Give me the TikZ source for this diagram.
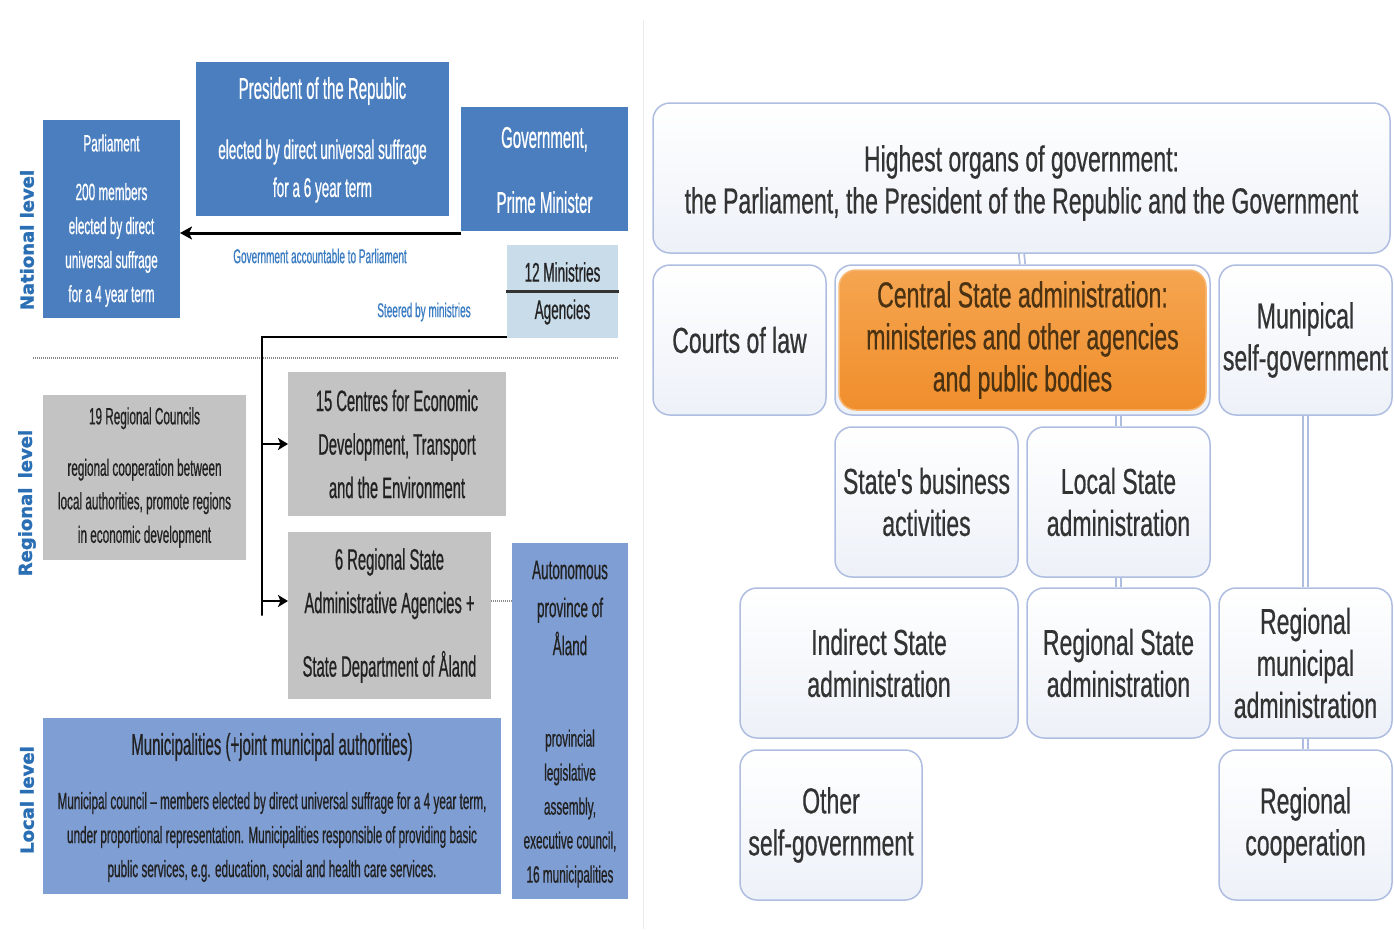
\documentclass[tikz,border=0pt]{standalone}
\usepackage{fontspec}
\setmainfont{Liberation Sans}
\newfontfamily\lfont[FakeStretch=0.5,FakeBold=0.6]{Liberation Sans}
\newfontfamily\rfont[FakeStretch=0.64,FakeBold=0.5]{Liberation Sans}
\newfontfamily\levfont[FakeBold=1.6]{DejaVu Sans}
\usetikzlibrary{arrows.meta}
\definecolor{dblue}{HTML}{4A7EBF}
\definecolor{pblue}{HTML}{7F9ED4}
\definecolor{lgray}{HTML}{C3C3C3}
\definecolor{lblue}{HTML}{C9DCEA}
\definecolor{capblue}{HTML}{3A7CC2}
\definecolor{levblue}{HTML}{2A6EB4}
\definecolor{rline}{HTML}{AEBDE0}
\definecolor{rbot}{HTML}{EDF1F8}
\definecolor{rtext}{HTML}{333333}
\definecolor{dtext}{HTML}{222222}
\definecolor{orngT}{HTML}{F5A550}
\definecolor{orngB}{HTML}{F08E2C}
\definecolor{otext}{HTML}{4A3212}
\newcommand{\LF}[2]{\lfont\fontsize{#1}{#2}\selectfont}
\newcommand{\RF}{\rfont\fontsize{36}{42}\selectfont}
\begin{document}
\begin{tikzpicture}[x=1pt,y=-1pt,
  box/.style={inner sep=0pt, outer sep=0pt},
  wtxt/.style={text=white, inner sep=0pt, align=center},
  dtxt/.style={text=dtext, inner sep=0pt, align=center},
  ctxt/.style={text=capblue, inner sep=0pt, font=\LF{20}{24}},
  lev/.style={text=levblue, inner sep=0pt, rotate=90, font=\levfont\bfseries\fontsize{18}{20}\selectfont},
  arr/.style={line width=3pt, -{Stealth[length=12pt,width=13pt,inset=3pt]}},
  arrb/.style={line width=2.5pt, -{Stealth[length=10pt,width=12pt,inset=2.5pt]}},
  trunk/.style={line width=2.5pt},
  dotl/.style={draw=black!45, line width=1.5pt, dash pattern=on 1pt off 1pt},
  rbox/.style={rounded corners=17pt, draw=rline, line width=1.5pt, top color=white, bottom color=rbot, inner sep=2pt, text=rtext, font=\RF, align=center},
  rconn/.style={draw=rline, line width=1.8pt, double=white, double distance=3.5pt}
]
\useasboundingbox (0,0) rectangle (1394,929);
\fill[white] (0,0) rectangle (1394,929);
\draw[black!8, line width=1pt] (643,20) -- (643,929);

% ---------- left panel ----------
\node[lev] (natL) at (27,240) {National level};
\node[lev] (regL) at (27,503) {Regional\, level};
\node[lev] (locL) at (27,800) {Local level};

\node[box, fill=dblue, minimum width=137pt, minimum height=198pt] (parl) at (111.5,219) {};
\node[wtxt, font=\LF{23.5}{34}] (parlT) at (111.5,143) {Parliament};
\node[wtxt, font=\LF{23.5}{34}] (parlB) at (111.5,245) {200 members\\elected by direct\\universal suffrage\\for a 4 year term};

\node[box, fill=dblue, minimum width=253pt, minimum height=154pt] (pres) at (322.5,139) {};
\node[wtxt, font=\LF{30}{32}] (presT) at (322.5,91) {President of the Republic};
\node[wtxt, font=\LF{27}{38}] (presB) at (322.5,171) {elected by direct universal suffrage\\for a 6 year term};

\node[box, fill=dblue, minimum width=167pt, minimum height=124pt] (gov) at (544.5,169) {};
\node[wtxt, font=\LF{30}{65}] (govT) at (544.5,170) {Government,\\Prime Minister};

\draw[arr] ([yshift=-2pt]gov.south west) -- ([yshift=-2pt]gov.south west -| parl.east);
\node[ctxt] (accT) at (320,256) {Government accountable to Parliament};

\node[box, fill=lblue, minimum width=111pt, minimum height=93pt] (mini) at (562.5,291.5) {};
\draw[line width=2.5pt, draw=black!80] ([xshift=-1pt]mini.west) -- ([xshift=1pt]mini.east);
\node[dtxt, font=\LF{27}{30}] (miniT) at (562.5,272) {12 Ministries};
\node[dtxt, font=\LF{27}{30}] (agT) at (562.5,312) {Agencies};
\node[ctxt] (steerT) at (424,312) {Steered by ministries};

\draw[dotl] (33,358) -- (619,358);

\node[box, fill=lgray, text=dtext, align=center, font=\LF{23.5}{33.5}, minimum width=203pt, minimum height=165pt] (rc) at (144.5,477.5) {19 Regional Councils\\[18pt]regional cooperation between\\local authorities, promote regions\\in economic development};

\node[box, fill=lgray, text=dtext, align=center, font=\LF{29.5}{43.5}, minimum width=218pt, minimum height=144pt] (cen) at (397,444) {15 Centres for Economic\\Development, Transport\\and the Environment};

\node[box, fill=lgray, text=dtext, align=center, font=\LF{29.5}{43.5}, minimum width=203pt, minimum height=167pt] (rsa) at (389.5,615.5) {6 Regional State\\Administrative Agencies +\\[20pt]State Department of Åland};

\node[box, fill=pblue, minimum width=116pt, minimum height=356pt] (aut) at (570,721) {};
\node[dtxt, font=\LF{27}{38}] (autT) at (570,608) {Autonomous\\province of\\Åland};
\node[dtxt, font=\LF{23.5}{34}] (autB) at (570,808.5) {provincial\\legislative\\assembly,\\executive council,\\16 municipalities};

\node[box, fill=pblue, minimum width=458pt, minimum height=176pt] (mun) at (272,806) {};
\node[dtxt, font=\LF{30}{32}] (munT) at (272,747) {Municipalities (+joint municipal authorities)};
\node[dtxt, font=\LF{23.5}{34}] (munB) at (272,837) {Municipal council – members elected by direct universal suffrage for a 4 year term,\\under proportional representation. Municipalities responsible of providing basic\\public services, e.g. education, social and health care services.};

\coordinate (tk) at (262,337);
\draw[trunk] ([yshift=1pt]mini.south west) -- (tk) -- (tk |- rsa.west) -- ([yshift=14.5pt]tk |- rsa.west);
\draw[arrb] (tk |- cen.west) -- (cen.west);
\draw[arrb] ([yshift=14.5pt]tk |- rsa.west) -- ([yshift=14.5pt]rsa.west);
\draw[dotl] ([yshift=14.5pt]rsa.east) -- ([yshift=14.5pt]rsa.east -| aut.west);

% ---------- right panel ----------
\node[rbox, minimum width=737pt, minimum height=150pt] (high) at (1021.5,178) {};
\node[text=rtext, font=\RF, align=center, inner sep=0pt] (highT) at (1021.5,183) {Highest organs of government:\\the Parliament, the President of the Republic and the Government};

\node[rbox, minimum width=173pt, minimum height=150pt] (court) at (739.5,340) {Courts of law};
\node[rbox, minimum width=375pt, minimum height=150pt] (cent) at (1022.5,340) {};
\node[rbox, draw=orngT!80!white, top color=orngT, bottom color=orngB, text=otext, minimum width=367pt, minimum height=140pt] (centO) at (1022.5,340) {Central State administration:\\ministeries and other agencies\\and public bodies};
\node[rbox, minimum width=173pt, minimum height=150pt] (msg) at (1305.5,340) {Munipical\\self-government};

\node[rbox, minimum width=183pt, minimum height=150pt] (sb) at (926.5,502) {State's business\\activities};
\node[rbox, minimum width=183pt, minimum height=150pt] (loc) at (1118.5,502) {Local State\\administration};

\node[rbox, minimum width=278pt, minimum height=150pt] (ind) at (879,663) {Indirect State\\administration};
\node[rbox, minimum width=183pt, minimum height=150pt] (rst) at (1118.5,663) {Regional State\\administration};
\node[rbox, minimum width=173pt, minimum height=150pt] (rmun) at (1305.5,663) {Regional\\municipal\\administration};

\node[rbox, minimum width=182pt, minimum height=150pt] (oth) at (831,825) {Other\\self-government};
\node[rbox, minimum width=173pt, minimum height=150pt] (rcoop) at (1305.5,825) {Regional\\cooperation};

\draw[rconn] (high.south) -- (cent.north);
\draw[rconn] (cent.south -| loc.north) -- (loc.north);
\draw[rconn] (loc.south) -- (rst.north);
\draw[rconn] (msg.south) -- (rmun.north);
\draw[rconn] (rmun.south) -- (rcoop.north);
\end{tikzpicture}
\end{document}
